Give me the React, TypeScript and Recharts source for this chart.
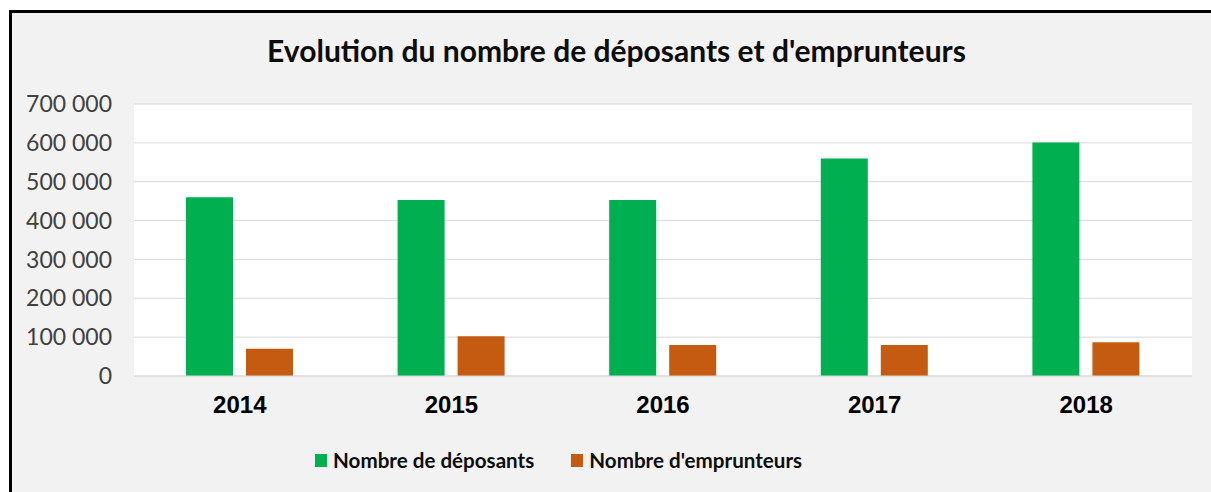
import React from 'react';
import { BarChart, Bar, XAxis, YAxis, CartesianGrid, Legend } from 'recharts';

const years = ['2014', '2015', '2016', '2017', '2018'];
const deposants = [460000, 453000, 453000, 560000, 601000];
const emprunteurs = [70000, 102000, 80000, 80000, 87000];
const yTicks = [0, 100000, 200000, 300000, 400000, 500000, 600000, 700000];

const SERIES = [
    { key: 'deposants', name: 'Nombre de déposants', color: '#00b050' },
    { key: 'emprunteurs', name: "Nombre d'emprunteurs", color: '#c55a11' },
];

const data = years.map((year, i) => ({ year, deposants: deposants[i], emprunteurs: emprunteurs[i] }));

const formatNumber = (v: number) => String(v).replace(/\B(?=(\d{3})+(?!\d))/g, ' ');

const LegendContent = () => (
    <div style={{ display: 'flex', alignItems: 'center', height: 30, fontFamily: 'Lato', fontWeight: 700, fontSize: 20.6, color: '#0d0d0d' }}>
        {SERIES.map((s, i) => (
            <div key={s.key} style={{ display: 'flex', alignItems: 'center', marginRight: i === 0 ? 37 : 0 }}>
                <span style={{ width: 12, height: 13, background: s.color, marginRight: 6, display: 'inline-block' }} />
                <span>{s.name}</span>
            </div>
        ))}
    </div>
);

export default function App() {
    return (
        <div style={{ position: 'absolute', left: 0, top: 0, width: 1211, height: 492, background: '#fff', overflow: 'hidden' }}>
            <div
                style={{
                    position: 'absolute',
                    left: 9,
                    top: 10,
                    width: 1240,
                    height: 520,
                    background: '#f2f2f2',
                    borderLeft: '3px solid #000',
                    borderTop: '3px solid #000',
                }}
            />
            <div
                style={{
                    position: 'absolute',
                    left: 0,
                    top: 32,
                    width: 1233,
                    textAlign: 'center',
                    fontFamily: 'Lato',
                    fontWeight: 700,
                    fontSize: 30,
                    lineHeight: '36px',
                    color: '#0d0d0d',
                }}
            >
                Evolution du nombre de déposants et d'emprunteurs
            </div>
            <div style={{ position: 'absolute', left: 0, top: 0 }}>
                <BarChart width={1211} height={492} data={data} margin={{ top: 104, right: 19, bottom: 17, left: 0 }} barSize={47} barGap={13}>
                    <CartesianGrid vertical={false} stroke="#d9d9d9" fill="#ffffff" />
                    <XAxis
                        dataKey="year"
                        height={69}
                        tickLine={false}
                        tickSize={0}
                        tickMargin={20}
                        axisLine={{ stroke: '#d9d9d9' }}
                        tick={{ fill: '#000', fontFamily: 'Liberation Sans', fontWeight: 700, fontSize: 24 }}
                    />
                    <YAxis
                        width={134}
                        domain={[0, 700000]}
                        ticks={yTicks}
                        tickFormatter={formatNumber}
                        axisLine={false}
                        tickLine={false}
                        tickSize={0}
                        tickMargin={22}
                        tick={{ fill: '#404040', fontFamily: 'Lato', fontSize: 23 }}
                    />
                    <Legend
                        verticalAlign="bottom"
                        height={30}
                        content={<LegendContent />}
                        wrapperStyle={{ left: 315, width: 600 }}
                    />
                    {SERIES.map((s) => (
                        <Bar key={s.key} dataKey={s.key} name={s.name} fill={s.color} isAnimationActive={false} />
                    ))}
                </BarChart>
            </div>
        </div>
    );
}
